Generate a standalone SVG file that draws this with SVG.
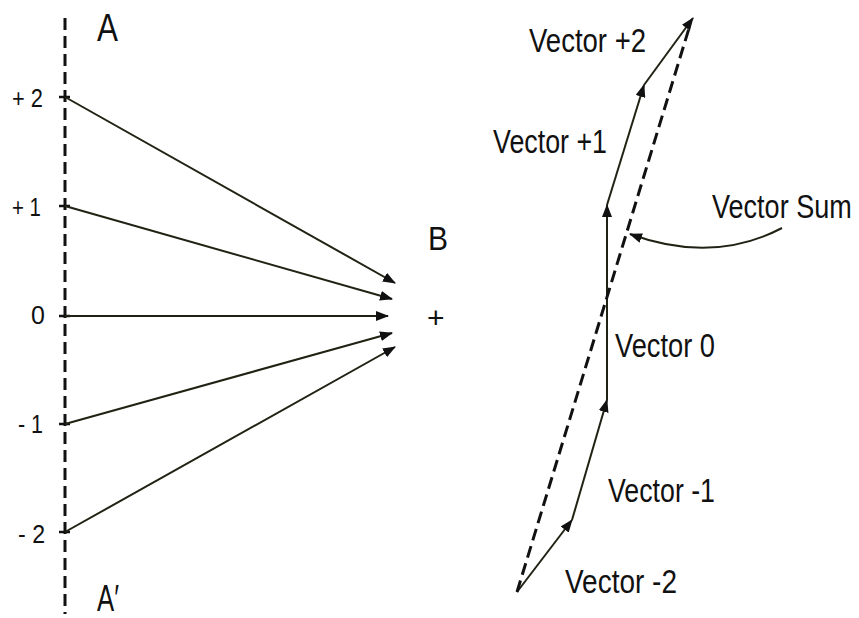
<svg xmlns="http://www.w3.org/2000/svg" width="859" height="618" viewBox="0 0 859 618">
<defs>
<marker id="ah" viewBox="0 0 13 10" refX="12" refY="5" markerWidth="13" markerHeight="10" markerUnits="userSpaceOnUse" orient="auto">
<path d="M0,0 L13,5 L0,10 Z" fill="#111"/>
</marker>
</defs>
<style>
.t{font-family:"Liberation Sans",Arial,sans-serif;fill:#111}
.lbl{font-size:33px}
.ax{font-size:25px}
.ln{stroke:#222214;stroke-width:2;fill:none}
.dash{stroke:#111;stroke-width:3;stroke-dasharray:12 6;fill:none}
</style>
<rect width="859" height="618" fill="#fff"/>
<g id="axis">
<line x1="65" y1="18" x2="65" y2="614" class="dash"/>
<path d="M59,97h11M59,206h11M59,316h11M59,424h11M59,532h11" stroke="#111" stroke-width="2.5"/>
</g>
<g id="labels-left">
<text class="t" x="97" y="41" font-size="38" textLength="21" lengthAdjust="spacingAndGlyphs">A</text>
<text class="t" x="97" y="611" font-size="36" textLength="22" lengthAdjust="spacingAndGlyphs">A′</text>
<text class="t ax" x="12" y="107" textLength="31" lengthAdjust="spacingAndGlyphs">+ 2</text>
<text class="t ax" x="12" y="216" textLength="29" lengthAdjust="spacingAndGlyphs">+ 1</text>
<text class="t ax" x="31" y="324">0</text>
<text class="t ax" x="18" y="433" textLength="25" lengthAdjust="spacingAndGlyphs">- 1</text>
<text class="t ax" x="18" y="543" textLength="27" lengthAdjust="spacingAndGlyphs">- 2</text>
<text class="t" x="428" y="250" font-size="34" textLength="20" lengthAdjust="spacingAndGlyphs">B</text>
<text class="t" x="427" y="328" font-size="30">+</text>
</g>
<g id="connectors">
<line x1="65" y1="97" x2="395" y2="283" class="ln" marker-end="url(#ah)"/>
<line x1="65" y1="206" x2="392" y2="299" class="ln" marker-end="url(#ah)"/>
<line x1="65" y1="316" x2="388" y2="316" class="ln" marker-end="url(#ah)"/>
<line x1="65" y1="424" x2="392" y2="333" class="ln" marker-end="url(#ah)"/>
<line x1="65" y1="532" x2="395" y2="347" class="ln" marker-end="url(#ah)"/>
<line x1="517" y1="592" x2="572" y2="520" class="ln" marker-end="url(#ah)"/>
<line x1="572" y1="520" x2="607" y2="400" class="ln" marker-end="url(#ah)"/>
<line x1="607" y1="400" x2="607" y2="205" class="ln" marker-end="url(#ah)"/>
<line x1="607" y1="205" x2="644" y2="85" class="ln" marker-end="url(#ah)"/>
<line x1="644" y1="85" x2="693" y2="18" class="ln" marker-end="url(#ah)"/>
<line x1="517" y1="592" x2="690" y2="25" class="dash"/>
<path d="M782,228 C740,250 690,256 630,234" class="ln" marker-end="url(#ah)"/>
</g>
<g id="labels-right">
<text class="t lbl" x="529" y="52" textLength="117" lengthAdjust="spacingAndGlyphs">Vector +2</text>
<text class="t lbl" x="493" y="153" textLength="114" lengthAdjust="spacingAndGlyphs">Vector +1</text>
<text class="t lbl" transform="translate(712,218) scale(0.82,1)" x="0" y="0">Vector Sum</text>
<text class="t lbl" x="615" y="357" textLength="100" lengthAdjust="spacingAndGlyphs">Vector 0</text>
<text class="t lbl" x="608" y="502" textLength="107" lengthAdjust="spacingAndGlyphs">Vector -1</text>
<text class="t lbl" x="565" y="593" textLength="112" lengthAdjust="spacingAndGlyphs">Vector -2</text>
</g>
</svg>
